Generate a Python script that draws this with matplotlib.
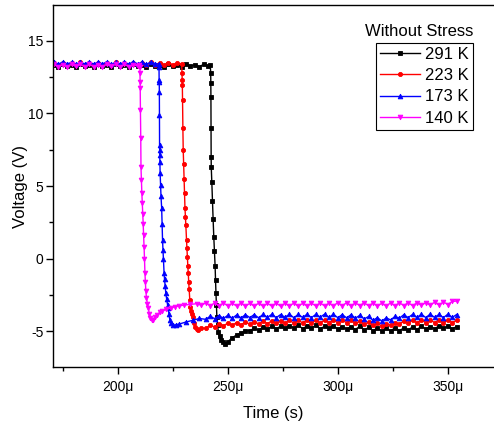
import matplotlib
matplotlib.use('Agg')
import matplotlib.pyplot as plt
from matplotlib.ticker import MultipleLocator, FuncFormatter

plt.rcParams['font.family'] = ['Liberation Sans', 'DejaVu Sans']

# ---------------- data (time in microseconds, voltage in V) ----------------
labels = ["291 K", "223 K", "173 K", "140 K"]

# 291 K
t291_top = list(range(171, 242, 2))
v291_top = [13.36, 13.22, 13.38, 13.24, 13.35, 13.20, 13.37, 13.23, 13.36, 13.21,
            13.38, 13.24, 13.35, 13.22, 13.37, 13.25, 13.36, 13.21, 13.38, 13.23,
            13.35, 13.22, 13.37, 13.24, 13.36, 13.21, 13.38, 13.23, 13.35, 13.22,
            13.37, 13.24, 13.36, 13.21, 13.38, 13.26]
t291_drop = [242.0, 242.2, 242.25, 242.3, 242.35, 242.4, 242.45, 242.7, 243.0, 243.3,
             243.6, 243.9, 244.2, 244.4, 244.6, 244.8, 245.0, 245.3, 245.7, 246.2,
             247.0, 248.0, 248.8, 250.0, 252.0, 254.0, 256.0, 258.0]
v291_drop = [13.30, 12.80, 12.10, 11.10, 9.00, 7.00, 6.30, 5.30, 4.00, 2.70,
             1.50, 0.50, -0.50, -1.50, -2.40, -3.20, -4.00, -4.60, -5.05, -5.35,
             -5.60, -5.75, -5.85, -5.72, -5.45, -5.25, -5.10, -5.00]
t291_low = list(range(260, 355, 2))
v291_low = [-4.95, -4.80, -4.92, -4.72, -4.86, -4.64, -4.82, -4.66, -4.80, -4.62,
            -4.78, -4.60, -4.81, -4.65, -4.79, -4.58, -4.83, -4.66, -4.80, -4.62,
            -4.86, -4.68, -4.84, -4.70, -4.88, -4.66, -4.92, -4.74, -4.96, -4.78,
            -5.00, -4.80, -4.98, -4.76, -4.95, -4.78, -4.92, -4.70, -4.88, -4.66,
            -4.84, -4.68, -4.82, -4.64, -4.80, -4.66, -4.83, -4.68]

# 223 K
t223_top = list(range(171, 229, 2))
v223_top = [13.48, 13.34, 13.50, 13.32, 13.47, 13.35, 13.51, 13.33, 13.48, 13.36,
            13.50, 13.32, 13.49, 13.34, 13.51, 13.33, 13.47, 13.35, 13.50, 13.32,
            13.48, 13.36, 13.52, 13.34, 13.49, 13.33, 13.50, 13.35, 13.46]
t223_drop = [229.0, 229.15, 229.25, 229.3, 229.4, 229.55, 229.7, 229.9, 230.1, 230.3,
             230.5, 230.7, 230.9, 231.2, 231.4, 231.6, 231.8, 232.0, 232.2, 232.4,
             232.7, 233.0, 233.3, 233.6, 234.0, 234.5, 235.0, 235.8, 236.5, 238.0]
v223_drop = [13.40, 12.80, 12.30, 11.95, 10.90, 9.00, 7.50, 6.50, 5.50, 4.50,
             3.50, 2.90, 2.30, 1.30, 0.70, 0.10, -0.50, -1.00, -1.60, -2.10,
             -2.85, -3.30, -3.60, -3.80, -4.00, -4.40, -4.70, -4.85, -4.90, -4.80]
t223_low = list(range(240, 355, 2))
v223_low = [-4.78, -4.60, -4.70, -4.50, -4.62, -4.44, -4.58, -4.40, -4.55, -4.36,
            -4.52, -4.34, -4.50, -4.30, -4.47, -4.28, -4.46, -4.26, -4.44, -4.24,
            -4.45, -4.25, -4.42, -4.22, -4.44, -4.24, -4.43, -4.21, -4.40, -4.22,
            -4.42, -4.24, -4.41, -4.22, -4.46, -4.30, -4.52, -4.36, -4.60, -4.45,
            -4.66, -4.48, -4.60, -4.40, -4.50, -4.30, -4.44, -4.24, -4.42, -4.22,
            -4.41, -4.23, -4.40, -4.21, -4.42, -4.22, -4.40, -4.24]

# 173 K
t173_top = list(range(171, 219, 2))
v173_top = [13.53, 13.38, 13.55, 13.40, 13.52, 13.37, 13.54, 13.39, 13.56, 13.38,
            13.53, 13.40, 13.55, 13.37, 13.52, 13.39, 13.54, 13.38, 13.56, 13.40,
            13.53, 13.37, 13.54, 13.42]
t173_drop = [218.6, 218.7, 218.75, 218.8, 218.85, 218.9, 218.95, 219.0, 219.05, 219.1,
             219.2, 219.4, 219.6, 219.9, 220.1, 220.3, 220.5, 220.7, 221.0, 221.2,
             221.5, 221.8, 222.2, 222.6, 222.9, 223.2, 223.6, 224.2, 225.1, 226.5,
             228.0, 231.0, 234.0, 237.0]
v173_drop = [13.40, 13.20, 12.30, 12.15, 11.50, 9.90, 7.80, 7.50, 7.10, 6.65,
             5.90, 5.10, 4.30, 3.50, 2.40, 1.30, 0.60, 0.00, -1.00, -1.40,
             -1.90, -2.40, -2.80, -3.20, -3.40, -3.80, -4.20, -4.45, -4.60, -4.55,
             -4.50, -4.36, -4.25, -4.12]
t173_low = list(range(240, 355, 2))
v173_low = [-4.18, -3.96, -4.14, -3.92, -4.12, -3.90, -4.10, -3.88, -4.08, -3.86,
            -4.06, -3.85, -4.08, -3.84, -4.05, -3.83, -4.06, -3.85, -4.04, -3.82,
            -4.07, -3.84, -4.05, -3.83, -4.06, -3.84, -4.03, -3.82, -4.05, -3.83,
            -4.07, -3.85, -4.08, -3.86, -4.10, -3.90, -4.15, -3.98, -4.25, -4.06,
            -4.30, -4.08, -4.22, -3.98, -4.10, -3.86, -4.06, -3.84, -4.05, -3.83,
            -4.06, -3.82, -4.05, -3.84, -4.06, -3.83, -4.05, -3.85]

# 140 K
t140_top = list(range(171, 210, 2))
v140_top = [13.38, 13.22, 13.36, 13.20, 13.39, 13.23, 13.37, 13.21, 13.38, 13.22,
            13.36, 13.20, 13.39, 13.23, 13.37, 13.21, 13.38, 13.22, 13.36, 13.26]
t140_drop = [209.8, 210.0, 210.05, 210.1, 210.15, 210.25, 210.4, 210.5, 210.7, 210.9,
             211.1, 211.3, 211.5, 211.7, 211.9, 212.1, 212.3, 212.5, 212.7, 213.0,
             213.4, 213.8, 214.3, 214.8, 215.3, 216.0, 217.0, 218.0, 219.0, 220.0,
             222.0, 224.0, 226.0, 228.0, 230.0, 233.0, 236.0]
v140_drop = [13.30, 13.20, 12.80, 12.15, 11.75, 10.20, 8.30, 6.30, 5.40, 4.50,
             3.80, 3.10, 2.40, 1.60, 0.80, 0.00, -1.00, -1.60, -2.20, -2.70,
             -3.10, -3.40, -3.80, -4.10, -4.25, -4.20, -4.00, -3.85, -3.70, -3.60,
             -3.50, -3.40, -3.30, -3.25, -3.20, -3.15, -3.10]
t140_low = list(range(238, 355, 2))
v140_low = [-3.22, -3.04, -3.24, -3.06, -3.25, -3.05, -3.26, -3.07, -3.27, -3.06,
            -3.26, -3.08, -3.27, -3.07, -3.28, -3.08, -3.27, -3.06, -3.28, -3.07,
            -3.27, -3.06, -3.28, -3.08, -3.26, -3.07, -3.25, -3.05, -3.26, -3.06,
            -3.25, -3.03, -3.24, -3.04, -3.25, -3.05, -3.23, -3.04, -3.25, -3.06,
            -3.27, -3.07, -3.26, -3.05, -3.24, -3.04, -3.23, -3.03, -3.24, -3.04,
            -3.22, -3.03, -3.21, -3.00, -3.20, -2.98, -3.16, -2.95, -2.92]

times = [t291_top + t291_drop + t291_low,
         t223_top + t223_drop + t223_low,
         t173_top + t173_drop + t173_low,
         t140_top + t140_drop + t140_low]
volts = [v291_top + v291_drop + v291_low,
         v223_top + v223_drop + v223_low,
         v173_top + v173_drop + v173_low,
         v140_top + v140_drop + v140_low]

colors = ["#000000", "#FF0000", "#0000FF", "#FF00FF"]
markers = ["s", "o", "^", "v"]
msizes = [3.0, 3.0, 3.4, 3.4]

# ---------------- figure ----------------
fig = plt.figure(figsize=(4.94, 4.25), dpi=100)
ax = fig.add_axes([53/494, 58/425, 441/494, 362/425])

for t, v, c, m, ms, lab in zip(times, volts, colors, markers, msizes, labels):
    ax.plot(t, v, color=c, marker=m, ms=ms, mew=0.6, lw=1.0, label=lab)

ax.set_xlim(170.5, 371)
ax.set_ylim(-7.46, 17.46)

ax.spines['right'].set_visible(False)
for s in ['left', 'top', 'bottom']:
    ax.spines[s].set_linewidth(1.0)

ax.xaxis.set_major_locator(MultipleLocator(50))
ax.xaxis.set_minor_locator(MultipleLocator(25))
ax.yaxis.set_major_locator(MultipleLocator(5))
ax.yaxis.set_minor_locator(MultipleLocator(2.5))
ax.xaxis.set_major_formatter(FuncFormatter(lambda x, p: f"{x:g}\u03bc"))
ax.yaxis.set_major_formatter(FuncFormatter(lambda y, p: f"{y:g}"))

ax.tick_params(which='both', direction='out', top=False, right=False, width=1.0)
ax.tick_params(which='major', length=5, labelsize=10)
ax.tick_params(axis='y', which='major', pad=2)
ax.tick_params(axis='x', which='major', pad=4)
ax.tick_params(which='minor', length=3)

ax.set_xlabel("Time (s)", fontsize=12, labelpad=9)
ax.set_ylabel("Voltage (V)", fontsize=12, labelpad=0)

leg = ax.legend(loc='upper right', bbox_to_anchor=(473/494, 1 - 43/425),
                bbox_transform=fig.transFigure, fontsize=12, frameon=True,
                fancybox=False, edgecolor='black', framealpha=1, numpoints=1,
                handlelength=2.4, handletextpad=0.3, labelspacing=0.37,
                borderpad=0.25, borderaxespad=0)
leg.get_frame().set_linewidth(0.8)
fig.text(419/494, 1 - 32/425, "Without Stress", ha='center', va='center', fontsize=12)

fig.savefig('out.png', dpi=100)
